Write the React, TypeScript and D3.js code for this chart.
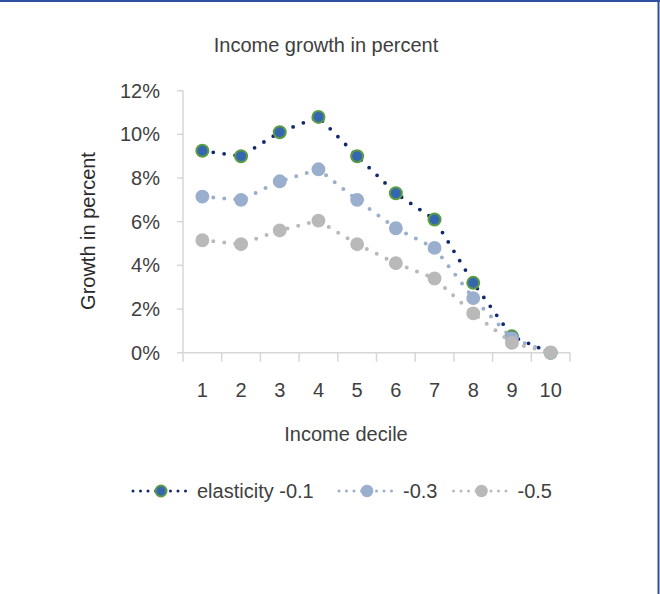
import React from "react";
import * as d3 from "d3";

const deciles = ["1", "2", "3", "4", "5", "6", "7", "8", "9", "10"];
const yTicks = [0, 2, 4, 6, 8, 10, 12];
const seriesNames = ["elasticity -0.1", "-0.3", "-0.5"];
const elasticity01 = [9.25, 9.0, 10.1, 10.8, 9.0, 7.3, 6.1, 3.2, 0.75, 0.0];
const elasticity03 = [7.15, 7.0, 7.85, 8.4, 7.0, 5.7, 4.8, 2.5, 0.65, 0.0];
const elasticity05 = [5.15, 4.97, 5.6, 6.05, 4.97, 4.1, 3.4, 1.8, 0.45, 0.0];

const W = 660;
const H = 594;
const FONT = "'Liberation Sans', Arial, sans-serif";
const TEXT = "#404040";

const styles = [
  { line: "#10296b", fill: "#3566b0", stroke: "#5c9c44", sw: 2, r: 6, dot: 3.8 },
  { line: "#9aafcd", fill: "#9aafcd", stroke: "#9aafcd", sw: 1.5, r: 6.2, dot: 4 },
  { line: "#b9b9b9", fill: "#b9b9b9", stroke: "#b9b9b9", sw: 1.5, r: 6.2, dot: 4 },
];

export default function App() {
  const x = d3.scaleBand<string>().domain(deciles).range([183, 570]);
  const y = d3.scaleLinear().domain([0, 12]).range([352.7, 90.7]);
  const cx = (d: string) => (x(d) as number) + x.bandwidth() / 2;
  const allSeries = [elasticity01, elasticity03, elasticity05];
  const line = d3
    .line<number>()
    .x((_, i) => cx(deciles[i]))
    .y((v) => y(v));

  const edges = deciles.map((d) => x(d) as number).concat([x.range()[1]]);

  // legend layout
  const legendY = 491;
  const symW = 58;
  let lx = 132;
  const textW = [126, 34.5, 34.5];
  const legendItems = seriesNames.map((n, i) => {
    const item = { x: lx, name: n, i };
    lx += symW + 7 + textW[i] + 15;
    return item;
  });

  return (
    <svg
      width={W}
      height={H}
      style={{ position: "absolute", left: 0, top: 0, background: "#fff" }}
      fontFamily={FONT}
    >
      <rect x={0} y={0} width={W} height={H} fill="#ffffff" />
      {/* frame lines */}
      <line x1={0} y1={1} x2={W} y2={1} stroke="#2d51a0" strokeWidth={2} />
      <line x1={658.5} y1={0} x2={658.5} y2={H} stroke="#2d51a0" strokeWidth={2} />

      <text x={326} y={52} textAnchor="middle" fontSize={20} fill={TEXT}>
        Income growth in percent
      </text>

      {/* y axis */}
      <line x1={183} y1={y(12)} x2={183} y2={y(0)} stroke="#d6d6d6" strokeWidth={1.5} />
      {yTicks.map((t) => (
        <g key={t}>
          <line x1={177} x2={183} y1={y(t)} y2={y(t)} stroke="#d6d6d6" strokeWidth={1.5} />
          <text x={160} y={y(t) + 7} textAnchor="end" fontSize={20} fill={TEXT}>
            {t}%
          </text>
        </g>
      ))}
      <text
        transform={`translate(95,231) rotate(-90)`}
        textAnchor="middle"
        fontSize={20}
        fill="#2a2a2a"
      >
        Growth in percent
      </text>

      {/* x axis */}
      <line x1={183} y1={y(0)} x2={570} y2={y(0)} stroke="#d6d6d6" strokeWidth={1.5} />
      {edges.map((e, i) => (
        <line key={i} x1={e} x2={e} y1={y(0)} y2={y(0) + 9} stroke="#d6d6d6" strokeWidth={1.5} />
      ))}
      {deciles.map((d) => (
        <text key={d} x={cx(d)} y={397} textAnchor="middle" fontSize={20} fill={TEXT}>
          {d}
        </text>
      ))}
      <text x={346} y={441} textAnchor="middle" fontSize={20} fill={TEXT}>
        Income decile
      </text>

      {/* series */}
      {allSeries.map((s, si) => (
        <g key={si}>
          <path
            d={line(s) as string}
            fill="none"
            stroke={styles[si].line}
            strokeWidth={styles[si].dot}
            strokeLinecap="round"
            strokeDasharray="0 11"
          />
          {s.map((v, i) => (
            <circle
              key={i}
              cx={cx(deciles[i])}
              cy={y(v)}
              r={styles[si].r}
              fill={styles[si].fill}
              stroke={styles[si].stroke}
              strokeWidth={styles[si].sw}
            />
          ))}
        </g>
      ))}

      {/* legend */}
      {legendItems.map((it) => {
        const st = styles[it.i];
        return (
          <g key={it.name}>
            <line
              x1={it.x + 1}
              x2={it.x + symW}
              y1={legendY}
              y2={legendY}
              stroke={st.line}
              strokeWidth={3}
              strokeLinecap="round"
              strokeDasharray="0 7.5"
            />
            <circle
              cx={it.x + symW / 2}
              cy={legendY}
              r={5.5}
              fill={st.fill}
              stroke={st.stroke}
              strokeWidth={st.sw}
            />
            <text x={it.x + symW + 7} y={legendY + 7} fontSize={20} fill={TEXT}>
              {it.name}
            </text>
          </g>
        );
      })}
    </svg>
  );
}
